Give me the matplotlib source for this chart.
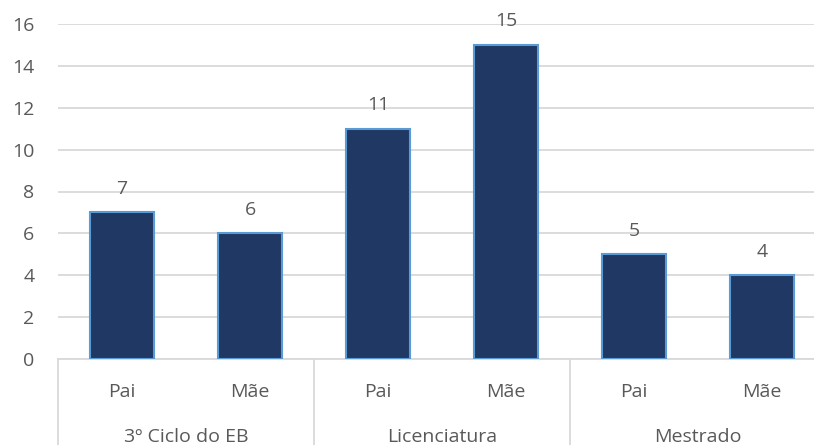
import numpy as np
import matplotlib.pyplot as plt
import matplotlib.transforms as mtransforms

plt.rcParams['font.family'] = ['Open Sans', 'DejaVu Sans']

groups = ['3º Ciclo do EB', 'Licenciatura', 'Mestrado']
parents = ['Pai', 'Mãe']
counts = [7, 6, 11, 15, 5, 4]
yticks = [0, 2, 4, 6, 8, 10, 12, 14, 16]

text_col = '#595959'
grid_col = '#D9D9D9'
fs = 14

W, H = 814, 445
fig = plt.figure(figsize=(W / 100, H / 100), dpi=100)
# plot area runs a little past the right edge of the canvas
ax = fig.add_axes([58 / W, (H - 359) / H, 768 / W, 335 / H])

x = np.arange(len(counts))
bars = ax.bar(x, counts, width=0.5, color='#203864', edgecolor='#5B9BD5',
              linewidth=1.5, zorder=3)

for b, v in zip(bars, counts):
    ax.annotate(str(v), (b.get_x() + b.get_width() / 2, v),
                xytext=(0, 17), textcoords='offset points',
                ha='center', va='center', fontsize=fs, color=text_col)

ax.set_xlim(-0.5, len(counts) - 0.5)
ax.set_ylim(0, 16)
ax.set_yticks(yticks)
ax.set_yticklabels([str(t) for t in yticks], fontsize=fs, color=text_col)
ax.tick_params(axis='y', length=0, pad=17)
ax.set_xticks([])
ax.yaxis.grid(True, color=grid_col, linewidth=1.3, zorder=0)
for s in ['top', 'right', 'left']:
    ax.spines[s].set_visible(False)
ax.spines['bottom'].set_color(grid_col)
ax.spines['bottom'].set_linewidth(1.3)

# two-level category axis
trans = mtransforms.blended_transform_factory(ax.transData, fig.transFigure)
y0 = (H - 359) / H
for i, lab in enumerate(parents * len(groups)):
    ax.text(i, (H - 392) / H, lab, transform=trans, ha='center', va='center',
            fontsize=fs, color=text_col)
for g, name in enumerate(groups):
    ax.text(2 * g + 0.5, (H - 437) / H, name, transform=trans, ha='center',
            va='center', fontsize=fs, color=text_col)
for sep in np.arange(-0.5, len(counts), 2):
    ax.plot([sep, sep], [y0, 0], transform=trans, color=grid_col,
            linewidth=1.3, clip_on=False)

fig.savefig('out.png', dpi=100)
